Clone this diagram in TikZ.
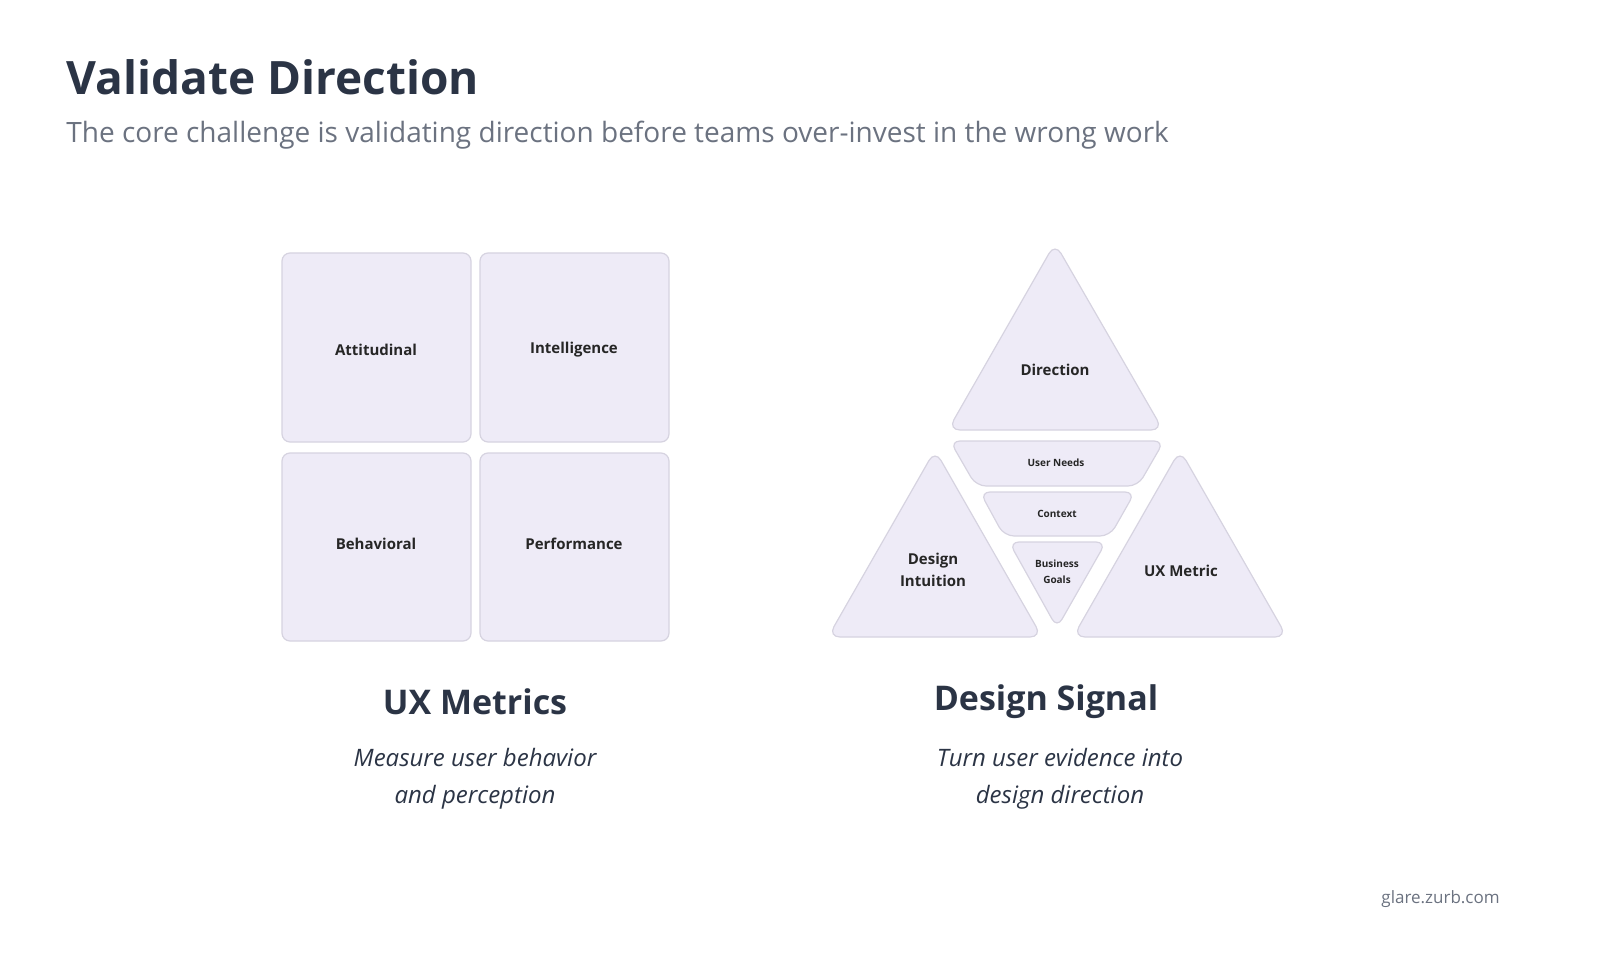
\documentclass[tikz,border=0pt]{standalone}
\usepackage{fontspec}
\setmainfont{Open Sans}
\definecolor{fillc}{HTML}{EEEBF7}
\definecolor{edgec}{HTML}{D6D3E0}
\definecolor{navy}{HTML}{2B3445}
\definecolor{greyc}{HTML}{6B7280}
\begin{document}
\begin{tikzpicture}[x=0.5pt,y=-0.5pt,
  tile/.style={fill=fillc,draw=edgec,line width=0.6pt,rounded corners=4pt},
  lab/.style={font=\fontsize{7.5}{9}\selectfont\bfseries\color{black!85},align=center},
  small/.style={font=\fontsize{5}{7}\selectfont\bfseries\color{black!85},align=center}]
\useasboundingbox (0,0) rectangle (1600,957);
\node[anchor=base west,inner sep=0,font=\fontsize{23}{27}\selectfont\bfseries,text=navy] (title) at (66,95) {Validate Direction};
\node[anchor=base west,inner sep=0,font=\fontsize{14}{17}\selectfont,text=greyc] (sub) at (66,143) {The core challenge is validating direction before teams over-invest in the wrong work};
% squares
\draw[tile] (282,253) rectangle (471,442); \node[lab] (a) at (376,350) {Attitudinal};
\draw[tile] (480,253) rectangle (669,442); \node[lab] (i) at (574,350) {Intelligence};
\draw[tile] (282,453) rectangle (471,641); \node[lab] (b) at (376,544) {Behavioral};
\draw[tile] (480,453) rectangle (669,641); \node[lab] (p) at (574,544) {Performance};
% triangles
\draw[tile,rounded corners=6pt] (1055,243) -- (1163,430) -- (948,430) -- cycle;
\node[lab] (d) at (1055,370) {Direction};
\draw[tile,rounded corners=6pt] (935,450) -- (1042,637) -- (828,637) -- cycle;
\node[lab] (di) at (933,570) {Design\\[2pt]Intuition};
\draw[tile,rounded corners=6pt] (1180,450) -- (1287,637) -- (1073,637) -- cycle;
\node[lab] (ux) at (1181,571) {UX Metric};
% inverted strips
\draw[tile,rounded corners=5pt] (950,441) -- (1164,441) -- (1138,486) -- (976,486) -- cycle;
\node[small] (un) at (1056,463) {User Needs};
\draw[tile,rounded corners=5pt] (980,492) -- (1135,492) -- (1110,536) -- (1004,536) -- cycle;
\node[small] (cx) at (1057,514) {Context};
\draw[tile,rounded corners=5pt] (1009,542) -- (1106,542) -- (1057,628) -- cycle;
\node[small] (bg) at (1057,572) {Business\\[1pt]Goals};
% captions
\node[font=\fontsize{17}{20}\selectfont\bfseries,text=navy] (c1) at (475,702) {UX Metrics};
\node[font=\fontsize{12}{18.5}\selectfont\itshape,text=navy,align=center] (c1s) at (475,779) {Measure user behavior\\and perception};
\node[font=\fontsize{17}{20}\selectfont\bfseries,text=navy] (c2) at (1046,702) {Design Signal};
\node[font=\fontsize{12}{18.5}\selectfont\itshape,text=navy,align=center] (c2s) at (1060,779) {Turn user evidence into\\design direction};
\node[anchor=base east,inner sep=0,font=\fontsize{8.5}{10}\selectfont,text=greyc] (url) at (1500,903) {glare.zurb.com};
\end{tikzpicture}
\end{document}
